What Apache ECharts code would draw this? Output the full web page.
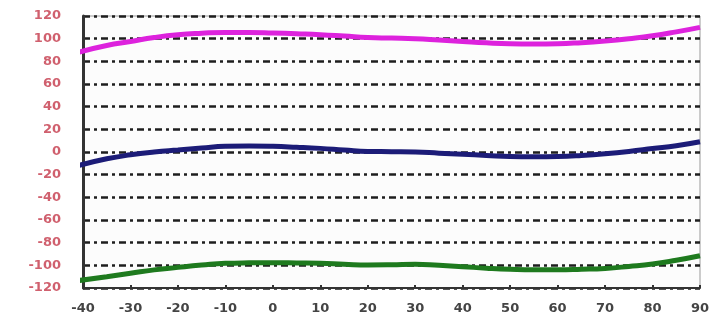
<!DOCTYPE html>
<html><head><meta charset="utf-8">
<script src="https://cdn.jsdelivr.net/npm/echarts@6/dist/echarts.min.js"></script>
<style>html,body{margin:0;padding:0;background:#fff}#c{width:715px;height:323px}</style>
</head><body><div id="c"></div>
<script>
var xValues = [-41,-35,-30,-25,-20,-15,-10,-5,0,5,10,15,20,25,30,35,40,45,50,55,60,65,70,75,80,85,90];
var magentaValues = [88,94,97.5,101,103.5,104.8,105.5,105.5,105,104.3,103.5,102.3,101,100.5,100,98.8,97.5,96.3,95.5,95.3,95.5,96.5,98,100,102.5,106,110];
var navyValues = [-12,-6,-2.5,0,1.8,3.5,5,5.3,5,4.2,3.2,1.8,0.5,0.3,0,-1,-2,-3,-4,-4.3,-4,-3,-1.5,0.5,3,5.5,9];
var greenValues = [-113.5,-110,-107,-104,-101.8,-99.8,-98.2,-97.8,-97.7,-97.9,-98.2,-99,-99.7,-99.5,-99,-100,-101.2,-102.5,-103.5,-104,-104,-103.5,-102.7,-101,-98.9,-95.5,-91.5];
var yTicks = {min:-120, max:120, interval:20};
var xTicks = {min:-40, max:90, interval:10};

function pairs(v){ return xValues.map(function(x,i){return [x,v[i]];}); }
var chart = echarts.init(document.getElementById('c'));
function ser(v,color){
  return {type:'line', data:pairs(v), smooth:true, clip:false, symbol:'none',
    lineStyle:{color:color,width:5}, itemStyle:{color:color}};
}
chart.setOption({
  animation:false,
  backgroundColor:'#ffffff',
  grid:{left:83,right:15,top:16,bottom:35,show:true,borderColor:'#9a9a9a',borderWidth:1,backgroundColor:'#fcfcfc'},
  xAxis:{type:'value',min:xTicks.min,max:xTicks.max,interval:xTicks.interval,
    axisLine:{onZero:false,lineStyle:{color:'#333',width:2}},
    axisTick:{inside:true,length:3,lineStyle:{color:'#333',width:2}},
    splitLine:{show:false},
    axisLabel:{color:'#444',fontSize:13,fontWeight:'bold',fontFamily:'DejaVu Sans',margin:14}},
  yAxis:{type:'value',min:yTicks.min,max:yTicks.max,interval:yTicks.interval,
    axisLine:{show:true,onZero:false,lineStyle:{color:'#333',width:3}},
    axisTick:{show:false},
    splitLine:{show:true,lineStyle:{color:'#1e1e1e',width:2.5,type:[7,4,3,4]}},
    axisLabel:{color:'#d0606e',fontSize:13,fontWeight:'bold',fontFamily:'DejaVu Sans',margin:22}},
  series:[ser(magentaValues,'#dd22dd'),ser(navyValues,'#1c1c78'),ser(greenValues,'#1e7a1e')]
});
</script></body></html>
